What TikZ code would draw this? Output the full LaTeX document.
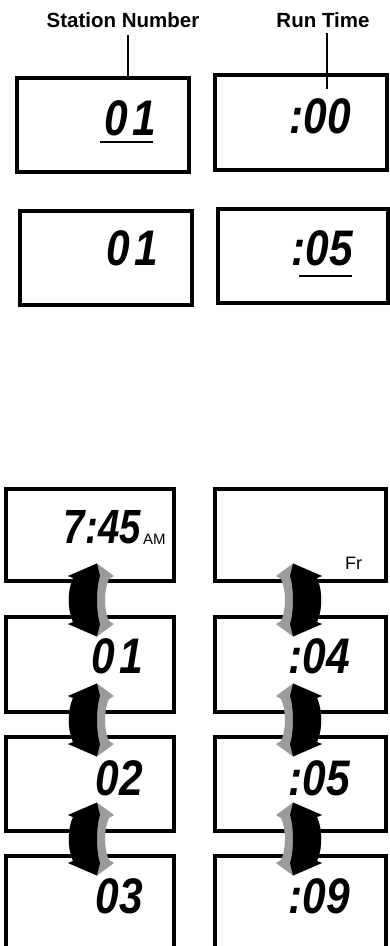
\documentclass[tikz,border=0pt]{standalone}
\usepackage{fontspec}
\usepackage{graphicx}
\setmainfont{Liberation Sans}
\definecolor{arrowgray}{RGB}{155,155,155}
\tikzset{
  lcdbox/.style={draw=black, line width=3.3pt, fill=white, rectangle, inner sep=0pt},
  lbl/.style={font=\fontsize{20.5}{20.5}\selectfont\bfseries, inner sep=0pt},
  digits/.style={font=\fontsize{50}{50}\selectfont\bfseries\itshape, inner sep=0pt, anchor=base east},
  small/.style={font=\fontsize{15}{15}\selectfont, inner sep=0pt, anchor=base west},
  leader/.style={draw=black, line width=1.5pt},
  uline/.style={draw=black, line width=2pt},
  curvarrow/.pic={
    \fill[arrowgray] (0,-36.5) -- (17,-24) -- (12,-21) .. controls (6.7,-10) and (6.7,10) .. (12,21)
      -- (17,24) -- (0,36.5) -- (-29,24) -- (-24,22) .. controls (-29.6,10) and (-29.6,-10) .. (-24,-22)
      -- (-29,-24) -- cycle;
    \fill[black] (0,-36.5) -- (3,-24) .. controls (-1,-12) and (-1,12) .. (3,24)
      -- (0,36.5) -- (-29,24) -- (-24,22) .. controls (-29.6,10) and (-29.6,-10) .. (-24,-22)
      -- (-29,-24) -- cycle;
  }
}
\newcommand{\lcd}[1]{\scalebox{0.85}[1]{#1}}
\begin{document}
\begin{tikzpicture}[x=1pt,y=-1pt]
\useasboundingbox (0,0) rectangle (390,946);
\clip (0,0) rectangle (390,946);
% labels
\node[lbl] (lblS) at (123,20) {Station Number};
\node[lbl] (lblR) at (323,20) {Run Time};
% top boxes
\node[lcdbox, minimum width=172pt, minimum height=94pt] (t1) at (103,125) {};
\node[lcdbox, minimum width=172pt, minimum height=95pt] (t2) at (301,122.5) {};
\node[lcdbox, minimum width=172pt, minimum height=94pt] (t3) at (106,258) {};
\node[lcdbox, minimum width=170pt, minimum height=94pt] (t4) at (303,256) {};
% leader lines
\coordinate (sA) at (128,35);
\coordinate (sB) at (128,78);
\coordinate (rA) at (327,33);
\coordinate (rB) at (327,89);
\draw[leader] (sA) -- (sB);
\draw[leader] (rA) -- (rB);
% top digits
\node[digits] (d1) at (156,135) {\lcd{0\kern5pt 1}};
\node[digits] (d2) at (351,133) {\lcd{:00}};
\node[digits] (d3) at (158,265) {\lcd{0\kern5pt 1}};
\node[digits] (d4) at (353,265) {\lcd{:05}};
\coordinate (u1a) at (100,142);
\coordinate (u1b) at (153,142);
\coordinate (u2a) at (299,276);
\coordinate (u2b) at (352,276);
\draw[uline] (u1a) -- (u1b);
\draw[uline] (u2a) -- (u2b);
% bottom boxes
\node[lcdbox, minimum width=168pt, minimum height=92pt] (a1) at (90,535) {};
\node[lcdbox, minimum width=171pt, minimum height=92pt] (a2) at (300.5,535) {};
\node[lcdbox, minimum width=168pt, minimum height=95pt] (b1) at (90,664.5) {};
\node[lcdbox, minimum width=171pt, minimum height=95pt] (b2) at (300.5,664.5) {};
\node[lcdbox, minimum width=168pt, minimum height=94pt] (c1) at (90,784) {};
\node[lcdbox, minimum width=171pt, minimum height=94pt] (c2) at (300.5,784) {};
\node[lcdbox, minimum width=168pt, minimum height=104pt] (e1) at (90,908) {};
\node[lcdbox, minimum width=171pt, minimum height=104pt] (e2) at (300.5,908) {};
% bottom texts
\node[digits, font=\fontsize{48}{48}\selectfont\bfseries\itshape] (ta) at (141,543) {\scalebox{0.8}[1]{7:45}};
\node[small] (am) at (143,544) {AM};
\node[font=\fontsize{18}{18}\selectfont, inner sep=0pt, anchor=base west] (fr) at (345,569) {Fr};
\node[digits] (tb) at (143,673) {\lcd{0\kern5pt 1}};
\node[digits] (tc) at (143,795) {\lcd{02}};
\node[digits] (td) at (143,913) {\lcd{03}};
\node[digits] (rb) at (350,673) {\lcd{:04}};
\node[digits] (rc) at (350,795) {\lcd{:05}};
\node[digits] (rd) at (350,913) {\lcd{:09}};
% arrows
\pic at (97,600) {curvarrow};
\pic at (97,720) {curvarrow};
\pic at (97,839) {curvarrow};
\pic[xscale=-1] at (293,600) {curvarrow};
\pic[xscale=-1] at (293,720) {curvarrow};
\pic[xscale=-1] at (293,839) {curvarrow};
\end{tikzpicture}
\end{document}
